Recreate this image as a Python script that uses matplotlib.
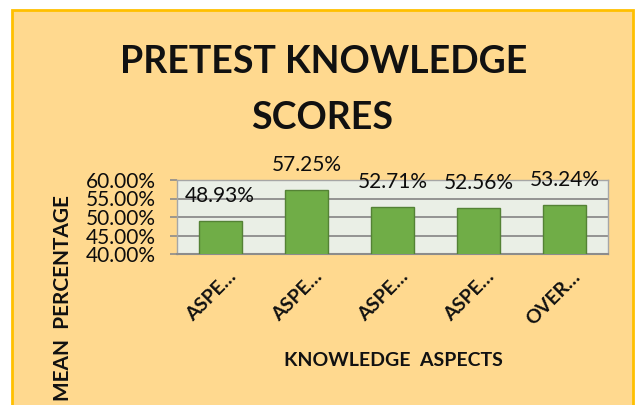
import matplotlib.pyplot as plt
import matplotlib.transforms as mtransforms
from matplotlib.patches import Rectangle
import numpy as np

# chart data
categories = ['ASPE…', 'ASPE…', 'ASPE…', 'ASPE…', 'OVER…']
scores = [48.93, 57.25, 52.71, 52.56, 53.24]
yticks = [40, 45, 50, 55, 60]

plt.rcParams['font.family'] = ['Lato', 'DejaVu Sans']

fig = plt.figure(figsize=(6.36, 4.05), dpi=100, facecolor='white')

# orange chart area with gold border
bg = Rectangle((12 / 636, -0.05), 621 / 636, 1 - 10 / 405 + 0.05,
               transform=fig.transFigure, facecolor='#FFD98F',
               edgecolor='#FFC000', linewidth=2, zorder=-10)
fig.patches.append(bg)

ax = fig.add_axes([177 / 636, 151 / 405, 431 / 636, 74 / 405])
ax.set_facecolor('#EAEFE6')

x = np.arange(len(categories))
bars = ax.bar(x, scores, width=0.5, color='#70AD47', edgecolor='#548235',
              linewidth=1, zorder=3)

ax.set_xlim(-0.5, len(categories) - 0.5)
ax.set_ylim(40, 60)
ax.set_yticks(yticks)
ax.set_yticklabels(['{:.2f}%'.format(v) for v in yticks], fontsize=15, color='#0d0d0d')
ax.yaxis.grid(True, color='#8C8C8C', linewidth=1.3, zorder=0)
ax.set_axisbelow(True)
ax.tick_params(axis='y', length=5, width=1.2, color='#8C8C8C', pad=10)
ax.tick_params(axis='x', length=0, pad=10)

for s in ax.spines.values():
    s.set_color('#A6A6A6')
    s.set_linewidth(1)
ax.spines['bottom'].set_color('#8C8C8C')
ax.spines['bottom'].set_linewidth(1.5)

ax.set_xticks(x)
ax.set_xticklabels(categories, rotation=45, ha='right', va='center',
                   rotation_mode='anchor', fontsize=14, fontweight='bold',
                   color='#111111')
offset = mtransforms.ScaledTranslation(13 / 100, -6 / 100, fig.dpi_scale_trans)
for lab in ax.get_xticklabels():
    lab.set_transform(lab.get_transform() + offset)

# data labels
for xi, v in zip(x, scores):
    ax.annotate('{:.2f}%'.format(v), (xi, v), xytext=(0, 25),
                textcoords='offset pixels', ha='center', va='center',
                fontsize=15, color='#0d0d0d', annotation_clip=False, zorder=5)

fig.text(323.5 / 636, 1 - 62 / 405, 'PRETEST KNOWLEDGE', ha='center', va='center',
         fontsize=27, fontweight='bold', color='#111111')
fig.text(322 / 636, 1 - 118 / 405, 'SCORES', ha='center', va='center',
         fontsize=27, fontweight='bold', color='#111111')

fig.text(393 / 636, 1 - 361 / 405, 'KNOWLEDGE  ASPECTS', ha='center', va='center',
         fontsize=14, fontweight='bold', color='#111111')
fig.text(63 / 636, 1 - 298 / 405, 'MEAN  PERCENTAGE', ha='center', va='center',
         rotation=90, fontsize=15, fontweight='bold', color='#111111')

fig.savefig('out.png', dpi=100, facecolor='white')
